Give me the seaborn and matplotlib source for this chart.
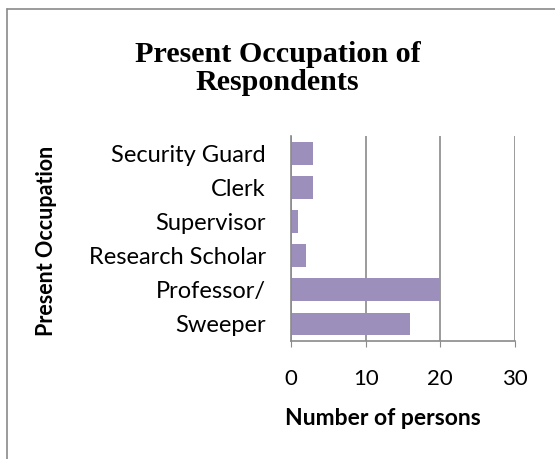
import matplotlib
matplotlib.use("Agg")
import matplotlib.pyplot as plt
import seaborn as sns
import pandas as pd
from matplotlib.lines import Line2D

categories = ["Security Guard", "Clerk", "Supervisor", "Research Scholar", "Professor/", "Sweeper"]
values = [3, 3, 1, 2, 20, 16]
x_ticks = [0, 10, 20, 30]

df = pd.DataFrame({"occupation": categories, "persons": values})

sns.set_style("white")
plt.rcParams['font.family'] = ['Lato', 'DejaVu Sans']
plt.rcParams['text.color'] = 'black'

fig = plt.figure(figsize=(5.55, 4.59), dpi=100)
ax = fig.add_axes([0.5243, 0.257, 0.4037, 0.4467])

sns.barplot(data=df, y="occupation", x="persons", order=categories, color="#9C8FBC",
            saturation=1, width=0.67, ax=ax, edgecolor="none")

ax.set_xlim(0, 30)
ax.set_ylim(5.5, -0.5)
ax.set_xticks(x_ticks)
ax.xaxis.grid(True, color="#8a8a8a", linewidth=1.2)
ax.set_axisbelow(True)
for s in ["top", "right"]:
    ax.spines[s].set_visible(False)
for s in ["left", "bottom"]:
    ax.spines[s].set_color("#8a8a8a")
    ax.spines[s].set_linewidth(1.2)
ax.tick_params(axis="x", labelsize=16, length=4, color="#8a8a8a", pad=16, direction="out", bottom=True)
ax.tick_params(axis="y", labelsize=17, length=0, pad=18)
for t in ax.get_xticklabels() + ax.get_yticklabels():
    t.set_color("black")

ax.set_xlabel("Number of persons", fontsize=16.5, fontweight="bold", color="black")
ax.xaxis.set_label_coords(0.408, -0.325)
ax.set_ylabel("Present Occupation", fontsize=15.5, fontweight="bold", color="black")
ax.yaxis.set_label_coords(-1.045, 0.49)

fig.text(0.5, 0.85, "Present Occupation of\nRespondents", ha="center", va="center",
         fontsize=21.7, fontweight="bold", family="Liberation Serif", linespacing=1.05)

# outer frame lines (left and top)
fig.add_artist(Line2D([0.0135, 0.0135], [0, 0.980], transform=fig.transFigure, color="#8a8a8a", linewidth=1.2))
fig.add_artist(Line2D([0.0135, 1.0], [0.980, 0.980], transform=fig.transFigure, color="#8a8a8a", linewidth=1.2))

fig.savefig("out.png", dpi=100)
